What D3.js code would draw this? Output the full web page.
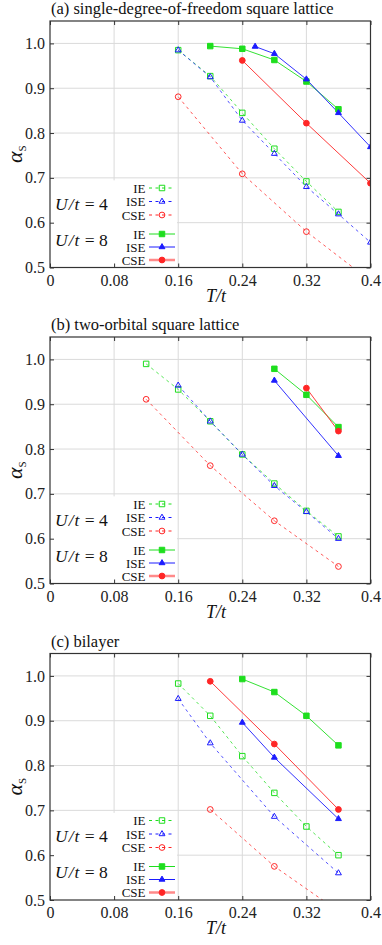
<!DOCTYPE html>
<html>
<head>
<meta charset="utf-8">
<script src="https://cdn.jsdelivr.net/npm/d3@7"></script>
<style>
  body { margin: 0; background: #fff; }
  svg { display: block; font-family: 'Liberation Serif', 'DejaVu Serif', serif; }
  .grid line { stroke: #dadada; stroke-width: 1; }
  .axis text { font-size: 16px; fill: #222; font-family: 'Liberation Serif', serif; }
  .axis line { stroke: #333; }
</style>
</head>
<body>
<div id="chart"></div>
<script>
// tick values
const tTicks = [0, 0.08, 0.16, 0.24, 0.32, 0.4];
const alphaTicks = [0.5, 0.6, 0.7, 0.8, 0.9, 1.0];

const panelTitles = [
  '(a) single-degree-of-freedom square lattice',
  '(b) two-orbital square lattice',
  '(c) bilayer',
];
const seriesNames = ['IE', 'ISE', 'CSE'];
const uLabels = ['U/t = 4', 'U/t = 8'];

// (a) single-degree-of-freedom square lattice, [T/t, alpha_s]
const aIE4 = [[0.16, 0.985], [0.2, 0.927], [0.24, 0.845], [0.28, 0.765], [0.32, 0.692], [0.36, 0.624]];
const aISE4 = [[0.16, 0.985], [0.2, 0.925], [0.24, 0.828], [0.28, 0.754], [0.32, 0.680], [0.36, 0.619], [0.4, 0.556]];
const aCSE4 = [[0.16, 0.881], [0.24, 0.709], [0.32, 0.580], [0.4, 0.470]];
const aIE8 = [[0.2, 0.994], [0.24, 0.988], [0.28, 0.963], [0.32, 0.915], [0.36, 0.853]];
const aISE8 = [[0.256, 0.993], [0.28, 0.977], [0.32, 0.920], [0.36, 0.845], [0.4, 0.769]];
const aCSE8 = [[0.24, 0.962], [0.32, 0.822], [0.4, 0.688]];

// (b) two-orbital square lattice
const bIE4 = [[0.12, 0.990], [0.16, 0.933], [0.2, 0.862], [0.24, 0.788], [0.28, 0.723], [0.32, 0.662], [0.36, 0.605]];
const bISE4 = [[0.16, 0.942], [0.2, 0.862], [0.24, 0.788], [0.28, 0.718], [0.32, 0.660], [0.36, 0.600]];
const bCSE4 = [[0.12, 0.911], [0.2, 0.763], [0.28, 0.640], [0.36, 0.538]];
const bIE8 = [[0.28, 0.979], [0.32, 0.921], [0.36, 0.849]];
const bISE8 = [[0.28, 0.953], [0.36, 0.785]];
const bCSE8 = [[0.32, 0.936], [0.36, 0.840]];

// (c) bilayer
const cIE4 = [[0.16, 0.983], [0.2, 0.911], [0.24, 0.821], [0.28, 0.739], [0.32, 0.664], [0.36, 0.600]];
const cISE4 = [[0.16, 0.949], [0.2, 0.850], [0.28, 0.686], [0.36, 0.560]];
const cCSE4 = [[0.2, 0.702], [0.28, 0.575], [0.36, 0.475]];
const cIE8 = [[0.24, 0.993], [0.28, 0.964], [0.32, 0.911], [0.36, 0.845]];
const cISE8 = [[0.24, 0.896], [0.28, 0.818], [0.36, 0.681]];
const cCSE8 = [[0.2, 0.988], [0.28, 0.848], [0.36, 0.702]];

const panelData = [
  [aIE4, aISE4, aCSE4, aIE8, aISE8, aCSE8],
  [bIE4, bISE4, bCSE4, bIE8, bISE8, bCSE8],
  [cIE4, cISE4, cCSE4, cIE8, cISE8, cCSE8],
];

const W = 382;
const H = 945;
const left = 50;
const right = 370.5;
const tops = [21, 337, 653.5];
const plotH = 246.5;

const colors = { IE: '#1ede1e', ISE: '#1c1cff', CSE: '#ff2626' };
const symbols = { IE: d3.symbolSquare, ISE: d3.symbolTriangle, CSE: d3.symbolCircle };
const symSize = { IE: 30, ISE: 15, CSE: 26 };

const svg = d3.select('#chart').append('svg')
  .attr('width', W)
  .attr('height', H);

const x = d3.scaleLinear().domain([0, 0.4]).range([left, right]);

const drawMarker = (g, name, filled, cx, cy) => {
  g.append('path')
    .attr('d', d3.symbol().type(symbols[name]).size(symSize[name])())
    .attr('transform', `translate(${cx},${cy})`)
    .attr('fill', filled ? colors[name] : 'none')
    .attr('stroke', colors[name])
    .attr('stroke-width', 1);
};

panelTitles.forEach((title, pi) => {
  const top = tops[pi];
  const bottom = top + plotH;
  const y = d3.scaleLinear().domain([0.5, 1.05]).range([bottom, top]);
  const g = svg.append('g');

  // title
  g.append('text')
    .attr('x', 51)
    .attr('y', top - 7)
    .style('font-size', '16.5px')
    .attr('fill', '#111')
    .text(title);

  // grid
  const grid = g.append('g').attr('class', 'grid');
  grid.selectAll('.vx')
    .data(tTicks.slice(1, -1))
    .enter()
    .append('line')
    .attr('x1', d => x(d))
    .attr('x2', d => x(d))
    .attr('y1', top)
    .attr('y2', bottom);
  grid.selectAll('.hy')
    .data(alphaTicks.slice(1))
    .enter()
    .append('line')
    .attr('x1', left)
    .attr('x2', right)
    .attr('y1', d => y(d))
    .attr('y2', d => y(d));

  // legend box covers grid
  g.append('rect')
    .attr('x', left)
    .attr('y', y(0.7) + 2.5)
    .attr('width', 127)
    .attr('height', bottom - y(0.7) - 2.5)
    .attr('fill', '#fff');

  // axes with inward ticks
  g.append('g')
    .attr('class', 'axis')
    .attr('transform', `translate(0,${bottom})`)
    .call(d3.axisBottom(x).tickValues(tTicks).tickSize(-4).tickPadding(7)
      .tickFormat(d => String(d)))
    .call(a => a.select('.domain').remove());
  g.append('g')
    .attr('class', 'axis')
    .attr('transform', `translate(0,${top})`)
    .call(d3.axisTop(x).tickValues(tTicks).tickSize(-4).tickFormat(''))
    .call(a => a.select('.domain').remove());
  g.append('g')
    .attr('class', 'axis')
    .attr('transform', `translate(${left},0)`)
    .call(d3.axisLeft(y).tickValues(alphaTicks).tickSize(-4).tickPadding(5)
      .tickFormat(d3.format('.1f')))
    .call(a => a.select('.domain').remove());
  g.append('g')
    .attr('class', 'axis')
    .attr('transform', `translate(${right},0)`)
    .call(d3.axisRight(y).tickValues(alphaTicks).tickSize(-4).tickFormat(''))
    .call(a => a.select('.domain').remove());

  // clip
  const clipId = `clip${pi}`;
  svg.append('clipPath')
    .attr('id', clipId)
    .append('rect')
    .attr('x', left)
    .attr('y', top)
    .attr('width', right - left)
    .attr('height', plotH);

  const plot = g.append('g').attr('clip-path', `url(#${clipId})`);
  const line = d3.line().x(d => x(d[0])).y(d => y(d[1]));

  panelData[pi].forEach((series, si) => {
    const name = seriesNames[si % 3];
    const filled = si >= 3;
    plot.append('path')
      .datum(series)
      .attr('d', line)
      .attr('fill', 'none')
      .attr('stroke', colors[name])
      .attr('stroke-opacity', filled ? 0.9 : 0.75)
      .attr('stroke-width', 1)
      .attr('stroke-dasharray', filled ? null : '3,3.5');
  });
  panelData[pi].forEach((series, si) => {
    const name = seriesNames[si % 3];
    const filled = si >= 3;
    series.forEach((d) => {
      if (d[1] >= 0.5) drawMarker(plot, name, filled, x(d[0]), y(d[1]));
    });
  });

  // frame
  g.append('rect')
    .attr('x', left)
    .attr('y', top)
    .attr('width', right - left)
    .attr('height', plotH)
    .attr('fill', 'none')
    .attr('stroke', '#333')
    .attr('stroke-width', 1.2);

  // legend
  const legOffsets = [-75, -61.5, -48, -29, -16, -3];
  const lg = g.append('g');
  legOffsets.forEach((off, li) => {
    const name = seriesNames[li % 3];
    const filled = li >= 3;
    const by = bottom + off;
    lg.append('text')
      .attr('x', 145.5)
      .attr('y', by)
      .attr('text-anchor', 'end')
      .style('font-size', '13px')
      .attr('fill', '#111')
      .text(name);
    lg.append('line')
      .attr('x1', 149)
      .attr('x2', 175)
      .attr('y1', by - 4.5)
      .attr('y2', by - 4.5)
      .attr('stroke', filled && name === 'CSE' ? '#ff8a8a' : colors[name])
      .attr('stroke-width', filled && name === 'CSE' ? 2.5 : 1)
      .attr('stroke-dasharray', filled ? null : '3,3.5');
    drawMarker(lg, name, filled, 162, by - 4.5);
  });
  [-58, -22].forEach((off, ui) => {
    const parts = uLabels[ui].split(' = ');
    const t = lg.append('text')
      .attr('x', 55)
      .attr('y', bottom + off)
      .style('font-size', '17.5px')
      .attr('fill', '#111');
    t.append('tspan').style('font-style', 'italic').attr('letter-spacing', 1).text(parts[0]);
    t.append('tspan').text(` = ${parts[1]}`);
  });

  // axis labels
  g.append('text')
    .attr('x', 216)
    .attr('y', bottom + 34)
    .attr('text-anchor', 'middle')
    .style('font-size', '18px')
    .style('font-style', 'italic')
    .attr('fill', '#111')
    .text('T/t');

  const yl = g.append('text')
    .attr('transform', `translate(22,${top + plotH / 2 + 10}) rotate(-90)`)
    .attr('text-anchor', 'middle')
    .attr('fill', '#111');
  yl.append('tspan').style('font-size', '22px').style('font-style', 'italic').text('α');
  yl.append('tspan').style('font-size', '11px').attr('dy', 4).text('S');
});
</script>
</body>
</html>
